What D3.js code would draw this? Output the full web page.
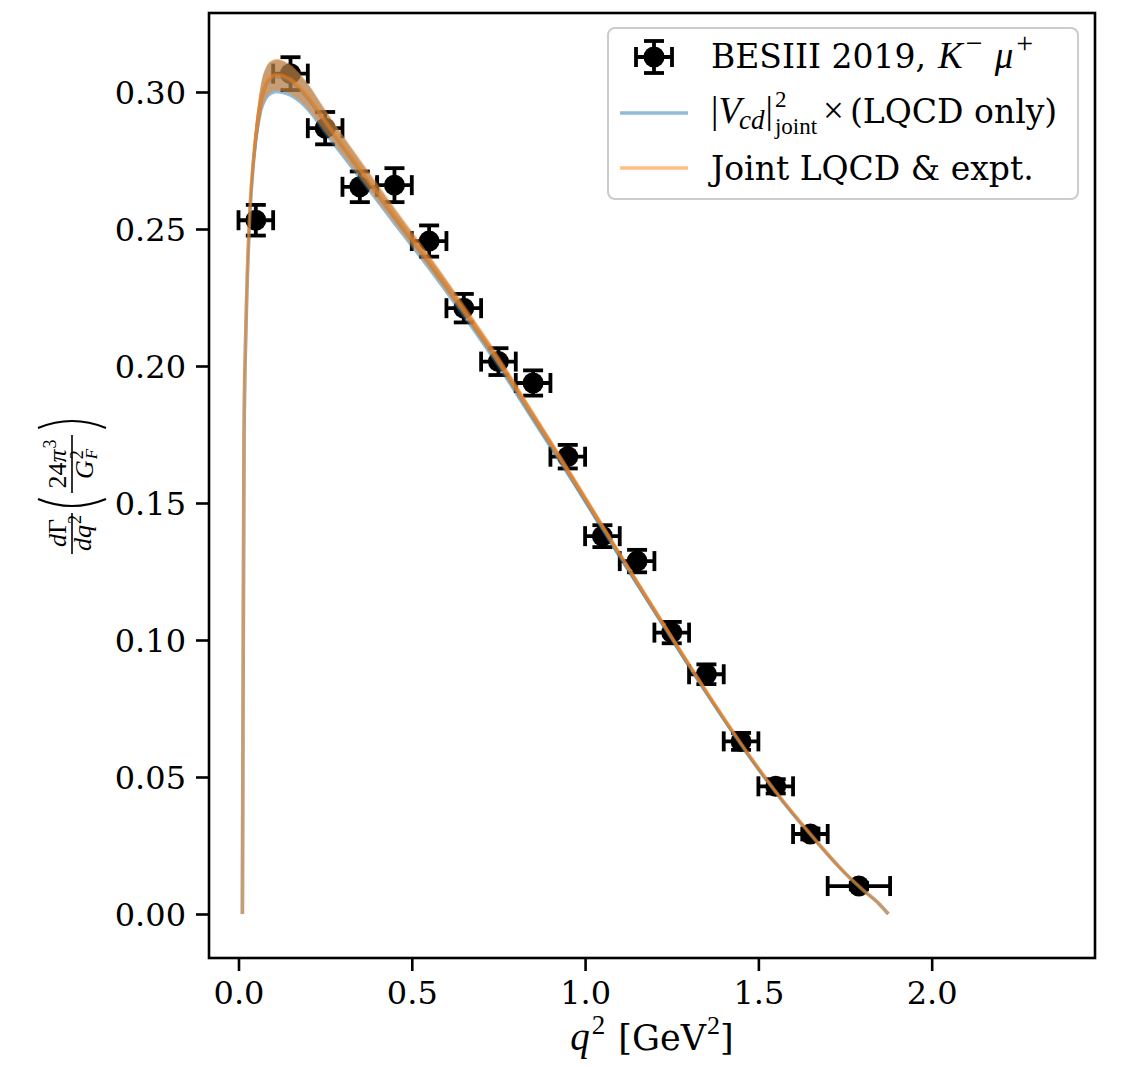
<!DOCTYPE html>
<html>
<head>
<meta charset="utf-8">
<script src="https://cdn.jsdelivr.net/npm/d3@7"></script>
<style>
  html, body { margin: 0; padding: 0; background: #ffffff; }
  svg { display: block; }
  text { white-space: pre; }
</style>
</head>
<body>
<svg id="chart" width="1127" height="1067"></svg>
<script>
// ---------------- data ----------------
const binCenters = [0.05,0.15,0.25,0.35,0.45,0.55,0.65,0.75,0.85,0.95,1.05,1.15,1.25,1.35,1.45,1.55,1.65,1.79];
const binHalfLo  = [0.05,0.05,0.05,0.05,0.05,0.05,0.05,0.05,0.05,0.05,0.05,0.05,0.05,0.05,0.05,0.05,0.05,0.09];
const binHalfHi  = [0.05,0.05,0.05,0.05,0.05,0.05,0.05,0.05,0.05,0.05,0.05,0.05,0.05,0.05,0.05,0.05,0.05,0.09];
const besiiiRate = [0.2532,0.3067,0.2868,0.2654,0.2660,0.2456,0.2211,0.2016,0.1938,0.1669,0.1379,0.1288,0.1027,0.0875,0.0630,0.0466,0.0292,0.0102];
const besiiiErr  = [0.0056,0.0060,0.0059,0.0056,0.0062,0.0057,0.0052,0.0049,0.0046,0.0043,0.0040,0.0041,0.0039,0.0036,0.0031,0.0026,0.0020,0.0012];

const curveQ2   = [0.0112,0.0135,0.016,0.020,0.024,0.033,0.043,0.057,0.067,0.080,0.095,0.110,0.125,0.150,0.175,0.200,0.250,0.300,0.350,0.450,0.550,0.650,0.750,0.850,0.950,1.050,1.150,1.250,1.350,1.450,1.550,1.650,1.750,1.800,1.850,1.875];
const jointMean = [0,0.090,0.175,0.207,0.227,0.257,0.275,0.291,0.2985,0.3035,0.3057,0.3063,0.3060,0.3046,0.3020,0.2985,0.2895,0.2808,0.2722,0.2550,0.2382,0.2205,0.2020,0.1820,0.1620,0.1415,0.1212,0.1010,0.0812,0.0622,0.0447,0.0292,0.0150,0.0090,0.0035,0];
const jointErr  = [0,0.0020,0.0035,0.0040,0.0045,0.0050,0.0054,0.0056,0.0058,0.0058,0.0058,0.0058,0.0057,0.0054,0.0050,0.0047,0.0042,0.0037,0.0034,0.0029,0.0025,0.0022,0.0020,0.0018,0.0016,0.0014,0.0012,0.0011,0.0010,0.0008,0.0006,0.0005,0.0003,0.0002,0.0001,0];
const lqcdMean  = [0,0.089,0.174,0.2062,0.2263,0.2563,0.2743,0.2903,0.2978,0.3028,0.3050,0.3056,0.3053,0.3039,0.3013,0.2978,0.2887,0.2800,0.2714,0.2542,0.2374,0.2197,0.2012,0.1812,0.1613,0.1408,0.1206,0.1005,0.0807,0.0618,0.0444,0.0290,0.0149,0.0089,0.0035,0];
const lqcdErr   = [0,0.0020,0.0037,0.0042,0.0047,0.0052,0.0056,0.0059,0.0060,0.0061,0.0061,0.0061,0.0060,0.0057,0.0053,0.0050,0.0045,0.0040,0.0036,0.0031,0.0027,0.0024,0.0022,0.0020,0.0017,0.0015,0.0013,0.0012,0.0010,0.0009,0.0007,0.0005,0.0003,0.0002,0.0001,0];

const xTicks = [0, 0.5, 1.0, 1.5, 2.0];
const xTickLabels = ["0.0","0.5","1.0","1.5","2.0"];
const yTicks = [0, 0.05, 0.10, 0.15, 0.20, 0.25, 0.30];
const yTickLabels = ["0.00","0.05","0.10","0.15","0.20","0.25","0.30"];

const legendLabels = ["BESIII 2019,", "(LQCD only)", "Joint LQCD & expt."];

// ---------------- layout ----------------
const SERIF = "'DejaVu Serif', serif";
const MATH = "'Liberation Serif', 'DejaVu Serif', serif";
const C0 = "#1f77b4", C1 = "#ff7f0e";
const L = 209, R = 1095, T = 13, B = 958;

const svg = d3.select("#chart");
svg.append("rect").attr("width",1127).attr("height",1067).attr("fill","#fff");

const x = d3.scaleLinear().domain([-0.0851, 2.4712]).range([L, R]);
const y = d3.scaleLinear().domain([-0.01606, 0.32883]).range([B, T]);

// helper: lay out runs of text (dx = gap before run)
function runs(parent, x0, y0, list) {
  let cx = x0, stackW = 0;
  list.forEach(r => {
    const t = parent.append("text")
      .attr("x", cx + (r.dx || 0)).attr("y", y0 + (r.dy || 0))
      .attr("font-family", r.ff || SERIF)
      .attr("font-size", r.fs)
      .attr("font-style", r.it ? "italic" : "normal")
      .attr("fill", "#000")
      .text(r.t);
    const w = t.node().getComputedTextLength() + (r.dx || 0) + (r.after || 0);
    if (r.stack) { stackW = w; }
    else { cx += Math.max(w, stackW); stackW = 0; }
  });
  return cx - x0;
}
function centeredRuns(parent, cxp, y0, list) {
  const g = parent.append("g");
  const w = runs(g, 0, y0, list);
  g.attr("transform", `translate(${cxp - w/2},0)`);
  return g;
}

// ---------------- data points (errorbars) ----------------
const gPts = svg.append("g");
const CAP = 10, EW = 3.8;
binCenters.forEach((c, i) => {
  const yy = y(besiiiRate[i]);
  const x1 = x(c - binHalfLo[i]), x2 = x(c + binHalfHi[i]);
  const y1 = y(besiiiRate[i] - besiiiErr[i]), y2 = y(besiiiRate[i] + besiiiErr[i]);
  const cx = x(c);
  const ln = (a,b,c2,d) => gPts.append("line").attr("x1",a).attr("x2",b).attr("y1",c2).attr("y2",d).attr("stroke","#000").attr("stroke-width",EW);
  ln(x1, x2, yy, yy);
  ln(x1, x1, yy-CAP, yy+CAP);
  ln(x2, x2, yy-CAP, yy+CAP);
  ln(cx, cx, y1, y2);
  ln(cx-CAP, cx+CAP, y1, y1);
  ln(cx-CAP, cx+CAP, y2, y2);
  gPts.append("circle").attr("cx",cx).attr("cy",yy).attr("r",10.5).attr("fill","#000");
});

// ---------------- theory bands ----------------
function band(mean, err, color) {
  const pts = curveQ2.map((q, i) => ({q, m: mean[i], e: err[i]}));
  const area = d3.area().x(d => x(d.q)).y0(d => y(d.m - d.e)).y1(d => y(d.m + d.e)).curve(d3.curveMonotoneX);
  const line = d3.line().x(d => x(d.q)).y(d => y(d.m)).curve(d3.curveMonotoneX);
  svg.append("path").attr("d", area(pts)).attr("fill", color).attr("fill-opacity", 0.5).attr("stroke", "none");
  svg.append("path").attr("d", line(pts)).attr("fill", "none").attr("stroke", color).attr("stroke-opacity", 0.5).attr("stroke-width", 3.6);
}
band(lqcdMean, lqcdErr, C0);
band(jointMean, jointErr, C1);

// ---------------- axes ----------------
const xAxis = d3.axisBottom(x).tickValues(xTicks).tickFormat((d, i) => xTickLabels[i]).tickSizeInner(13).tickSizeOuter(0).tickPadding(9);
const yAxis = d3.axisLeft(y).tickValues(yTicks).tickFormat((d, i) => yTickLabels[i]).tickSizeInner(13).tickSizeOuter(0).tickPadding(10);
const gx = svg.append("g").attr("transform", `translate(0,${B})`).call(xAxis);
const gy = svg.append("g").attr("transform", `translate(${L},0)`).call(yAxis);
[gx, gy].forEach(g => {
  g.select(".domain").remove();
  g.selectAll(".tick line").attr("stroke", "#000").attr("stroke-width", 2.6);
  g.selectAll(".tick text").attr("font-family", SERIF).attr("font-size", 32).attr("fill", "#000");
});
gy.selectAll(".tick text").attr("dy", "0.35em");
gx.selectAll(".tick text").attr("dy", "0.74em");

svg.append("rect").attr("x", L).attr("y", T).attr("width", R - L).attr("height", B - T)
  .attr("fill", "none").attr("stroke", "#000").attr("stroke-width", 2.6);

// x label
centeredRuns(svg, (L + R) / 2, 1050, [
  {t: "q", it: true, ff: MATH, fs: 39},
  {t: "2", ff: MATH, fs: 27, dy: -16, dx: 2, after: 13},
  {t: "[GeV", ff: SERIF, fs: 35},
  {t: "2", ff: MATH, fs: 26, dy: -16, dx: 1},
  {t: "]", ff: SERIF, fs: 35}
]);

// y label (rotated math)
const gyl = svg.append("g").attr("transform", "translate(72,487) rotate(-90)");
const FS = 26;
gyl.append("line").attr("x1", -67).attr("x2", -26).attr("y1", 0).attr("y2", 0).attr("stroke", "#000").attr("stroke-width", 1.6);
centeredRuns(gyl, -46, -6, [
  {t: "d", it: true, ff: MATH, fs: FS},
  {t: "Γ", ff: MATH, fs: FS}
]);
centeredRuns(gyl, -46, 19, [
  {t: "dq", it: true, ff: MATH, fs: FS},
  {t: "2", ff: MATH, fs: 18, dy: -10, dx: 1}
]);
gyl.append("path").attr("d", "M -12,-34 Q -26,0 -12,34").attr("fill", "none").attr("stroke", "#000").attr("stroke-width", 2.2);
gyl.append("line").attr("x1", -6).attr("x2", 52).attr("y1", 0).attr("y2", 0).attr("stroke", "#000").attr("stroke-width", 1.6);
centeredRuns(gyl, 23, -6, [
  {t: "24", ff: MATH, fs: FS},
  {t: "π", it: true, ff: MATH, fs: FS},
  {t: "3", ff: MATH, fs: 18, dy: -10, dx: 1}
]);
centeredRuns(gyl, 23, 21, [
  {t: "G", it: true, ff: MATH, fs: FS},
  {t: "2", ff: MATH, fs: 18, dy: -10, dx: 1, stack: true},
  {t: "F", it: true, ff: MATH, fs: 17, dy: 4, dx: 1}
]);
gyl.append("path").attr("d", "M 59,-34 Q 73,0 59,34").attr("fill", "none").attr("stroke", "#000").attr("stroke-width", 2.2);

// ---------------- legend ----------------
const lg = svg.append("g");
lg.append("rect").attr("x", 608).attr("y", 28).attr("width", 470).attr("height", 171).attr("rx", 7)
  .attr("fill", "#fff").attr("fill-opacity", 0.8).attr("stroke", "#cccccc").attr("stroke-width", 2);
// errorbar handle
const hx = 654, hy = 57;
lg.append("line").attr("x1", hx-18).attr("x2", hx+18).attr("y1", hy).attr("y2", hy).attr("stroke","#000").attr("stroke-width",EW);
[hx-18, hx+18].forEach(v => lg.append("line").attr("x1", v).attr("x2", v).attr("y1", hy-10).attr("y2", hy+10).attr("stroke","#000").attr("stroke-width",EW));
lg.append("line").attr("x1", hx).attr("x2", hx).attr("y1", hy-16).attr("y2", hy+16).attr("stroke","#000").attr("stroke-width",EW);
[hy-16, hy+16].forEach(v => lg.append("line").attr("x1", hx-10).attr("x2", hx+10).attr("y1", v).attr("y2", v).attr("stroke","#000").attr("stroke-width",EW));
lg.append("circle").attr("cx", hx).attr("cy", hy).attr("r", 10.5).attr("fill", "#000");
// line handles
lg.append("line").attr("x1", 620).attr("x2", 688).attr("y1", 113).attr("y2", 113).attr("stroke", C0).attr("stroke-opacity", 0.5).attr("stroke-width", 3.6);
lg.append("line").attr("x1", 620).attr("x2", 688).attr("y1", 168).attr("y2", 168).attr("stroke", C1).attr("stroke-opacity", 0.5).attr("stroke-width", 3.6);

runs(lg, 711, 68, [
  {t: legendLabels[0], fs: 33, after: 12},
  {t: "K", it: true, ff: MATH, fs: 37},
  {t: "−", ff: MATH, fs: 30, dy: -15, dx: 3},
  {t: "μ", it: true, ff: MATH, fs: 37, dx: 12},
  {t: "+", ff: MATH, fs: 30, dy: -15, dx: 3}
]);
runs(lg, 711, 123, [
  {t: "|", ff: MATH, fs: 37},
  {t: "V", it: true, ff: MATH, fs: 37},
  {t: "cd", it: true, ff: MATH, fs: 27, dy: 6, dx: -2},
  {t: "|", ff: MATH, fs: 37, dx: 1},
  {t: "2", ff: MATH, fs: 23, dy: -16, dx: 2, stack: true},
  {t: "joint", ff: MATH, fs: 23, dy: 11, dx: 2},
  {t: "×", ff: MATH, fs: 37, dx: 6, after: 6},
  {t: legendLabels[1], fs: 33}
]);
runs(lg, 711, 180, [
  {t: legendLabels[2], fs: 33}
]);
</script>
</body>
</html>
